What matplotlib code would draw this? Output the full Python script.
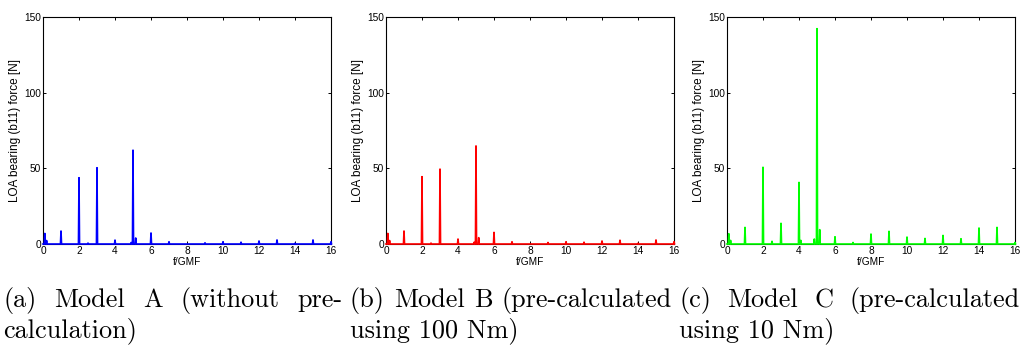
import numpy as np
import matplotlib
matplotlib.use("Agg")
from matplotlib import pyplot as plt

# peak frequencies (f/GMF) and amplitudes [N]
freq_a = [0.1, 0.2, 1.0, 2.0, 2.5, 3.0, 4.0, 4.9, 5.0, 5.15, 6.0, 7.0, 9.0, 10.0, 11.0, 12.0, 13.0, 14.0, 15.0, 16.0]
amp_a = [7.0, 2.3, 8.6, 43.8, 0.6, 50.4, 2.6, 1.0, 62.0, 4.0, 7.3, 1.5, 0.8, 1.5, 1.2, 2.0, 2.7, 0.5, 2.7, 1.5]

freq_b = [0.1, 0.2, 1.0, 2.0, 2.5, 3.0, 4.0, 4.9, 5.0, 5.15, 6.0, 7.0, 9.0, 10.0, 11.0, 12.0, 13.0, 14.0, 15.0, 16.0]
amp_b = [7.0, 2.3, 8.6, 44.5, 0.6, 49.5, 3.3, 1.2, 64.8, 4.2, 7.7, 1.5, 1.0, 1.5, 1.2, 2.0, 2.5, 0.5, 2.7, 1.5]

freq_c = [0.1, 0.2, 1.0, 2.0, 2.5, 3.0, 4.0, 4.1, 4.85, 5.0, 5.15, 6.0, 7.0, 8.0, 9.0, 10.0, 11.0, 12.0, 13.0, 14.0, 15.0, 16.0]
amp_c = [6.8, 2.4, 11.0, 50.7, 1.8, 13.7, 40.7, 2.4, 3.3, 142.3, 9.5, 4.8, 1.0, 6.6, 8.4, 4.6, 3.7, 5.7, 3.5, 10.6, 11.0, 1.0]

colors = ["#0000ff", "#ff0000", "#00ff00"]
xticks = [0, 2, 4, 6, 8, 10, 12, 14, 16]
yticks = [0, 50, 100, 150]

captions = [
    ("(a) Model A (without pre-", "calculation)"),
    ("(b) Model B (pre-calculated", "using 100 Nm)"),
    ("(c) Model C (pre-calculated", "using 10 Nm)"),
]


def spectrum(freqs, amps, hw=0.03):
    f = [0.0]
    a = [0.0]
    for fi, ai in sorted(zip(freqs, amps)):
        f += [fi - hw, fi, fi + hw]
        a += [0.0, ai, 0.0]
    f.append(16.0)
    a.append(0.0)
    return np.array(f), np.array(a)


W, H = 1022, 345
fig = plt.figure(figsize=(W / 100, H / 100), dpi=100)

lefts = [43, 386, 727]
for i, (fr, am) in enumerate([(freq_a, amp_a), (freq_b, amp_b), (freq_c, amp_c)]):
    ax = fig.add_axes([lefts[i] / W, 101 / H, 288 / W, 227 / H])
    x, y = spectrum(fr, am)
    ax.plot(x, y, color=colors[i], lw=1.2, zorder=3, clip_on=False)
    ax.set_xlim(0, 16)
    ax.set_ylim(0, 150)
    ax.set_xticks(xticks)
    ax.set_yticks(yticks)
    ax.tick_params(direction="in", top=True, right=True, length=2.5, width=0.7,
                   labelsize=7.3, pad=1.5)
    for lab in ax.get_xticklabels() + ax.get_yticklabels():
        lab.set_family("Liberation Sans")
    for s in ax.spines.values():
        s.set_linewidth(0.8)
    ax.set_xlabel("f/GMF", family="Liberation Sans", fontsize=7.3, labelpad=0.5)
    ax.set_ylabel("LOA bearing (b11) force [N]", family="Liberation Sans", fontsize=8.5, labelpad=2)

# captions, first line justified like LaTeX
cap_x = [(3, 343), (350, 672), (679, 1020)]
fs = 18.9
fig.canvas.draw()
r = fig.canvas.get_renderer()
for (l1, l2), (x0, x1) in zip(captions, cap_x):
    words = l1.split(" ")
    texts = [fig.text(0, (H - 307) / H, w, family="cmr10", fontsize=fs, va="baseline")
             for w in words]
    widths = [t.get_window_extent(r).width for t in texts]
    gap = ((x1 - x0) - sum(widths)) / (len(words) - 1)
    pos = x0
    for t, w in zip(texts, widths):
        t.set_x(pos / W)
        pos += w + gap
    fig.text(x0 / W, (H - 337) / H, l2, family="cmr10", fontsize=fs, va="baseline")

fig.savefig("out.png", dpi=100)
